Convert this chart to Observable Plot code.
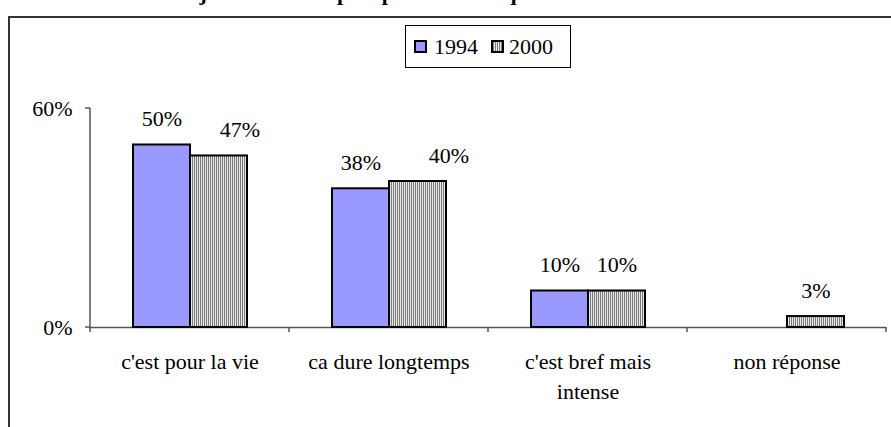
<!DOCTYPE html>
<html>
<head>
<meta charset="utf-8">
<script src="https://cdn.jsdelivr.net/npm/d3@7"></script>
<script src="https://cdn.jsdelivr.net/npm/@observablehq/plot@0.6"></script>
<style>
  html, body { margin: 0; padding: 0; background: #fff; }
  #wrap { position: relative; width: 891px; height: 427px; overflow: hidden; font-family: "Liberation Serif", serif; }
  #title { position: absolute; left: -31px; top: -20px; white-space: nowrap; font-weight: bold; font-size: 22px; color: #000; font-family: "Liberation Serif", serif; }
  #frame { position: absolute; left: 8px; top: 16px; width: 900px; height: 430px; border-left: 2px solid #333; border-top: 2px solid #333; box-sizing: border-box; }
  #chart { position: absolute; left: 0; top: 0; }
  #legend { position: absolute; left: 405px; top: 25px; width: 166px; height: 43px; box-sizing: border-box; border: 1px solid #000; background: #fff;
            display: flex; align-items: center; padding-left: 8px; font-size: 22px; font-family: "Liberation Serif", serif; }
  .sw { width: 13px; height: 13px; box-sizing: border-box; border: 2px solid #000; display: inline-block; }
  .sw1 { background: #9999FF; margin-right: 7px; }
  .sw2 { background: repeating-linear-gradient(90deg, #808080 0 1px, #e8e8e8 1px 2px); margin-left: 13px; margin-right: 5px; }
</style>
</head>
<body>
<div id="wrap">
  <div id="title">définition de l'amour de jeunesse est la plus proche de ce que vous avez vécu ?</div>
  <div id="frame"></div>
  <div id="chart"></div>
  <div id="legend"><span class="sw sw1"></span><span>1994</span><span class="sw sw2"></span><span>2000</span></div>
</div>
<script>
const categories = ["c'est pour la vie", "ca dure longtemps", "c'est bref mais intense", "non réponse"];
const tickLabels = ["c'est pour la vie", "ca dure longtemps", "c'est bref mais\nintense", "non réponse"];
const years = ["1994", "2000"];
const values1994 = [50, 38, 10, null];
const values2000 = [47, 40, 10, 3];
const yTicks = [0, 60];

const data = [];
categories.forEach((c, i) => {
  if (values1994[i] != null) data.push({cat: c, year: "1994", value: values1994[i]});
  if (values2000[i] != null) data.push({cat: c, year: "2000", value: values2000[i]});
});
const d1994 = data.filter(d => d.year === "1994");
const d2000 = data.filter(d => d.year === "2000");
const labelOf = new Map(categories.map((c, i) => [c, tickLabels[i]]));
const FONT = "Liberation Serif";

// labels that were nudged sideways in the original (style, not data)
const nudge = new Map([[categories[0] + "|2000", 21], [categories[1] + "|2000", 31]]);
const key = d => d.cat + "|" + d.year;
const plainLabels = data.filter(d => !nudge.has(key(d)));
const nudgedMarks = data.filter(d => nudge.has(key(d))).map(d =>
  Plot.text([d], {fx: "cat", x: "year", y: "value", text: d => d.value + "%", dy: -19, dx: nudge.get(key(d)), lineAnchor: "bottom", fontSize: 22, fontFamily: FONT})
);

const chart = Plot.plot({
  width: 891,
  height: 427,
  marginLeft: 90,
  marginRight: 5,
  marginTop: 108,
  marginBottom: 100,
  style: {fontFamily: FONT, fontSize: "22px", background: "transparent", color: "#000"},
  fx: {domain: categories, padding: 0, label: null, axis: null},
  x: {domain: years, paddingInner: 0, paddingOuter: 0.73, axis: null},
  y: {domain: [0, 60], label: null, axis: null},
  marks: [
    Plot.axisY({ticks: yTicks, tickFormat: d => d + "%", tickSize: 0, tickPadding: 18, label: null, fontSize: 22, fontFamily: FONT}),
    Plot.axisFx({anchor: "bottom", tickSize: 0, tickPadding: 21, tickFormat: c => labelOf.get(c), lineHeight: 1.33, label: null, fontSize: 22, fontFamily: FONT}),
    Plot.ruleY([0], {stroke: "#555", strokeWidth: 1.5}),
    Plot.barY(d1994, {fx: "cat", x: "year", y: "value", fill: "#9999FF", stroke: "#000", strokeWidth: 2}),
    Plot.barY(d2000, {fx: "cat", x: "year", y: "value", fill: "url(#stripes2000)", stroke: "#000", strokeWidth: 2}),
    Plot.text(plainLabels, {fx: "cat", x: "year", y: "value", text: d => d.value + "%", dy: -19, lineAnchor: "bottom", fontSize: 22, fontFamily: FONT}),
    ...nudgedMarks
  ]
});

// pattern for the 2000 series and axis lines/ticks drawn from Plot's own scales
const svg = d3.select(chart);
const defs = svg.insert("defs", ":first-child");
const pat = defs.append("pattern").attr("id", "stripes2000").attr("patternUnits", "userSpaceOnUse").attr("width", 2).attr("height", 4);
pat.append("rect").attr("width", 2).attr("height", 4).attr("fill", "#e8e8e8");
pat.append("rect").attr("width", 1).attr("height", 4).attr("fill", "#7a7a7a");

const fx = chart.scale("fx");
const y = chart.scale("y");
const fxScale = d3.scaleBand().domain(fx.domain).range(fx.range).paddingInner(0).paddingOuter(0);
const y0 = y.apply(0);
const g = svg.append("g").attr("stroke", "#555").attr("stroke-width", 1.5).attr("fill", "none");
g.append("line").attr("x1", fx.range[0]).attr("x2", fx.range[0]).attr("y1", y.apply(yTicks[1])).attr("y2", y0 + 5);
yTicks.forEach(t => g.append("line").attr("x1", fx.range[0] - 5).attr("x2", fx.range[0]).attr("y1", y.apply(t)).attr("y2", y.apply(t)));
categories.forEach(c => {
  const xb = fxScale(c) + fxScale.bandwidth();
  g.append("line").attr("x1", xb).attr("x2", xb).attr("y1", y0).attr("y2", y0 + 5);
});

document.getElementById("chart").appendChild(chart);
</script>
</body>
</html>
